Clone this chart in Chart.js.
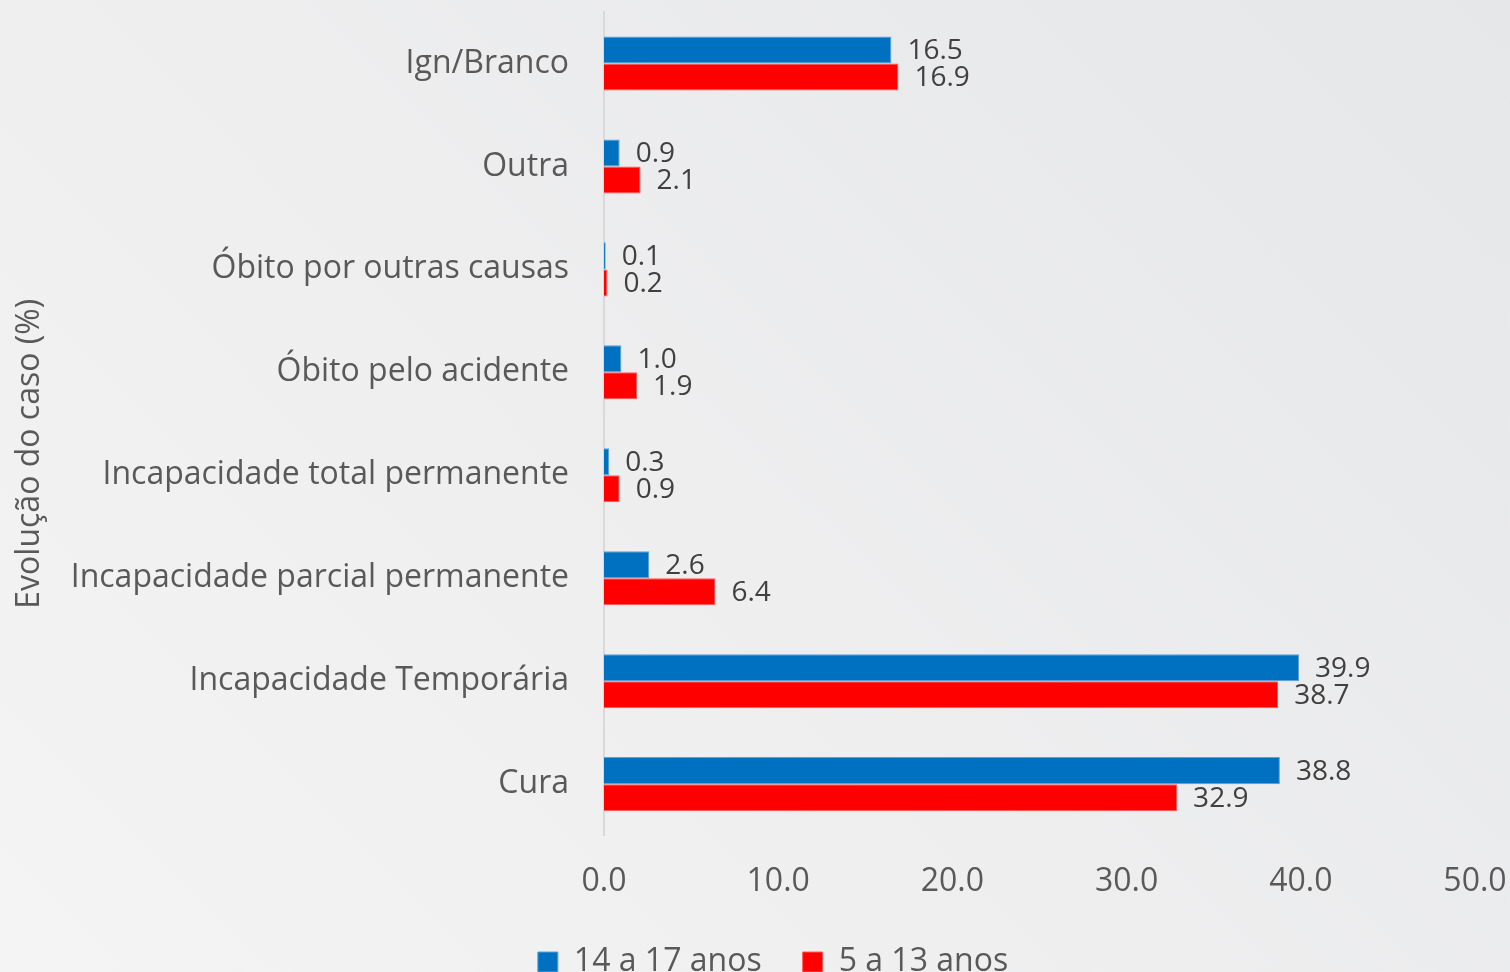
<!DOCTYPE html>
<html>
<head>
<meta charset="utf-8">
<script src="https://cdn.jsdelivr.net/npm/chart.js@4"></script>
<style>
  html, body { margin: 0; padding: 0; overflow: hidden; }
  body { background: linear-gradient(45deg, #f4f4f4, #e6e7e9); width: 1510px; height: 972px; }
  #wrap { width: 1510px; height: 1003px; }
</style>
</head>
<body>
<div id="wrap"><canvas id="myChart"></canvas></div>
<script>
const categorias = ['Ign/Branco', 'Outra', 'Óbito por outras causas', 'Óbito pelo acidente',
  'Incapacidade total permanente', 'Incapacidade parcial permanente', 'Incapacidade Temporária', 'Cura'];
const dados14a17 = [16.5, 0.9, 0.1, 1.0, 0.3, 2.6, 39.9, 38.8];
const dados5a13 = [16.9, 2.1, 0.2, 1.9, 0.9, 6.4, 38.7, 32.9];
const tituloY = 'Evolução do caso (%)';

const fonte = "'Open Sans', sans-serif";

// rotulos de valor no fim de cada barra + titulo do eixo y
const rotulos = {
  id: 'rotulos',
  afterLayout(chart) {
    // legenda deslocada para ficar como no original
    chart.legend.left += 18;
    chart.legend.right += 18;
    chart.legend.top -= 15;
    chart.legend.bottom -= 15;
  },
  afterDatasetsDraw(chart) {
    const ctx = chart.ctx;
    ctx.save();
    ctx.font = '28px ' + fonte;
    ctx.fillStyle = '#404040';
    ctx.textAlign = 'left';
    ctx.textBaseline = 'middle';
    chart.data.datasets.forEach(function(ds, i) {
      chart.getDatasetMeta(i).data.forEach(function(bar, j) {
        ctx.fillText(ds.data[j].toFixed(1), bar.x + 16, bar.y + 1);
      });
    });

    const area = chart.chartArea;
    ctx.translate(30, (area.top + area.bottom) / 2 + 30);
    ctx.rotate(-Math.PI / 2);
    ctx.font = '32px ' + fonte;
    ctx.fillStyle = '#595959';
    ctx.textAlign = 'center';
    ctx.fillText(tituloY, 0, 0);
    ctx.restore();
  }
};

const ctx = document.getElementById('myChart');
new Chart(ctx, {
  type: 'bar',
  data: {
    labels: categorias,
    datasets: [{
      label: '14 a 17 anos',
      data: dados14a17,
      backgroundColor: '#0070c0',
      borderColor: '#5aa0dc',
      borderWidth: 1,
      barPercentage: 1,
      categoryPercentage: 0.525
    }, {
      label: '5 a 13 anos',
      data: dados5a13,
      backgroundColor: '#ff0000',
      borderColor: '#ff5a5a',
      borderWidth: 1,
      barPercentage: 1,
      categoryPercentage: 0.525
    }]
  },
  plugins: [rotulos],
  options: {
    indexAxis: 'y',
    responsive: true,
    maintainAspectRatio: false,
    animation: false,
    layout: { padding: { top: 12, right: 0, left: 0, bottom: 0 } },
    scales: {
      x: {
        min: 0,
        max: 50,
        grid: { display: false },
        border: { display: false },
        afterFit: function(scale) {
          scale.paddingRight = 35;
        },
        ticks: {
          stepSize: 10,
          padding: 19,
          color: '#595959',
          font: { family: fonte, size: 32 },
          callback: function(v) { return v.toFixed(1); }
        }
      },
      y: {
        grid: { display: false },
        border: { display: true, color: '#d9d9d9', width: 2 },
        afterFit: function(scale) {
          scale.width = 604;
          scale.paddingTop = 0;
          scale.paddingBottom = 0;
        },
        ticks: {
          padding: 27,
          color: '#595959',
          font: { family: fonte, size: 32 }
        }
      }
    },
    plugins: {
      legend: {
        position: 'bottom',
        labels: {
          boxWidth: 20,
          boxHeight: 20,
          padding: 41,
          color: '#595959',
          font: { family: fonte, size: 32 }
        }
      },
      tooltip: { enabled: false }
    }
  }
});
</script>
</body>
</html>
